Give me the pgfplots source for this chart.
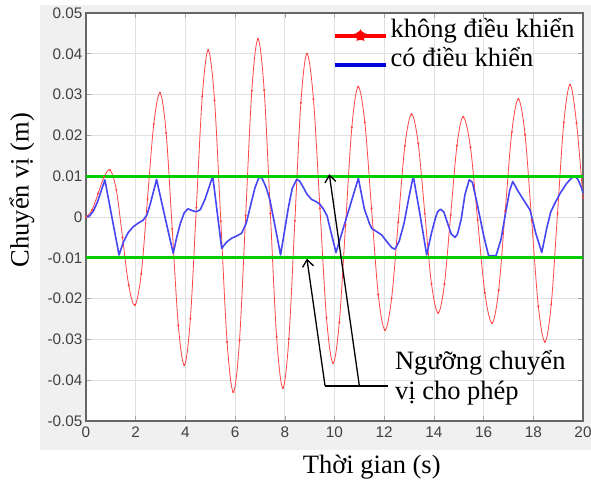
\documentclass[border=0pt]{standalone}
\usepackage{pgfplots}
\pgfplotsset{compat=1.18}
\usepackage{fontspec}
\setmainfont{Liberation Serif}
\newfontfamily\ticksans{Liberation Sans}
\usetikzlibrary{arrows.meta}

\definecolor{figgray}{HTML}{F0F0F0}
\definecolor{ticktext}{HTML}{404040}
\definecolor{uncred}{RGB}{255,70,70}
\definecolor{ctrlblue}{RGB}{70,70,245}
\definecolor{limgreen}{RGB}{0,205,0}

\pgfplotstableread{
t v
0 0
0.2425 0.00168
0.485 0.00575
0.7275 0.00982
0.97 0.0115
1.22 0.00665
1.47 -0.00505
1.72 -0.01675
1.97 -0.0216
2.2225 -0.01398
2.475 0.0044
2.7275 0.02278
2.98 0.0304
3.225 0.02063
3.47 -0.00295
3.715 -0.02653
3.96 -0.0363
4.2 -0.02499
4.44 0.0023
4.68 0.02959
4.92 0.0409
5.1725 0.02862
5.425 -0.001
5.6775 -0.03062
5.93 -0.0429
6.1775 -0.03023
6.425 0.00035
6.6725 0.03093
6.92 0.0436
7.17 0.03107
7.42 0.00085
7.67 -0.02937
7.92 -0.0419
8.1625 -0.0299
8.405 -0.00095
8.6475 0.028
8.89 0.0400
9.1525 0.0289
9.415 0.0021
9.6775 -0.0247
9.94 -0.0358
10.1925 -0.02588
10.445 -0.00195
10.6975 0.02198
10.95 0.0319
11.22 0.02317
11.49 0.0021
11.76 -0.01897
12.03 -0.0277
12.2975 -0.01995
12.565 -0.00125
12.8325 0.01745
13.1 0.0252
13.3675 0.01807
13.635 0.00085
13.9025 -0.01637
14.17 -0.0235
14.4225 -0.01647
14.675 0.0005
14.9275 0.01747
15.18 0.0245
15.47 0.0171
15.76 -0.00075
16.05 -0.0186
16.34 -0.026
16.605 -0.01796
16.87 0.00145
17.135 0.02086
17.4 0.0289
17.6675 0.02018
17.935 -0.00085
18.2025 -0.02188
18.47 -0.0306
18.7225 -0.02137
18.975 0.0009
19.2275 0.02317
19.48 0.0324
19.74 0.023
20 0.0047
}\uncontrolled

\pgfplotstableread{
t v
0 0
0.15 0.0003
0.3 0.0015
0.45 0.0035
0.6 0.0062
0.76 0.0091
1.05 -0.0003
1.33 -0.0093
1.5 -0.0062
1.7 -0.0038
1.9 -0.0024
2.1 -0.0015
2.3 -0.0008
2.45 0.0005
2.6 0.0035
2.84 0.0092
3.17 0.0002
3.51 -0.0089
3.65 -0.005
3.8 -0.0015
3.95 0.001
4.1 0.002
4.3 0.0015
4.45 0.0013
4.6 0.0018
4.8 0.0045
5.1 0.0100
5.46 -0.0077
5.65 -0.0062
5.86 -0.0052
6.05 -0.0047
6.26 -0.004
6.45 -0.0015
6.65 0.0035
6.8 0.0072
6.98 0.0100
7.1 0.0093
7.25 0.0072
7.4 0.0042
7.6 -0.002
7.83 -0.0093
8.0 -0.003
8.15 0.0025
8.3 0.007
8.48 0.0092
8.6 0.0088
8.75 0.0072
8.9 0.0055
9.08 0.0043
9.25 0.0038
9.4 0.0032
9.55 0.002
9.7 0.0003
9.85 -0.0035
10.06 -0.0087
10.96 0.0095
11.2 0.002
11.4 -0.0015
11.5 -0.0028
11.7 -0.0036
11.9 -0.0044
12.1 -0.006
12.3 -0.0075
12.43 -0.0079
12.6 -0.006
12.8 -0.0015
13.0 0.005
13.17 0.0100
13.45 0.0003
13.71 -0.0093
13.9 -0.004
14.05 -0.0005
14.15 0.0013
14.27 0.0019
14.4 0.0012
14.55 -0.0015
14.7 -0.0042
14.85 -0.005
14.95 -0.0042
15.1 -0.0005
15.25 0.0055
15.42 0.0091
15.55 0.0085
15.75 0.003
16.0 -0.0045
16.2 -0.0095
16.5 -0.0095
16.7 -0.0055
16.9 0.0015
17.05 0.0065
17.17 0.0087
17.4 0.0062
17.65 0.0038
17.87 0.0017
18.1 -0.004
18.34 -0.0087
18.55 -0.0025
18.7 0.0012
18.87 0.0034
19.1 0.006
19.35 0.0083
19.55 0.0096
19.68 0.0099
19.8 0.0092
19.95 0.007
20.0 0.0058
}\controlled

\begin{document}
\begin{tikzpicture}
\useasboundingbox (0,0) rectangle (591pt,486pt);
% figure background
\fill[figgray] (40pt,36pt) rectangle (591pt,481pt);
\begin{axis}[
  at={(86pt,65pt)}, anchor=south west,
  scale only axis, width=497pt, height=408pt,
  xmin=0, xmax=20, ymin=-0.05, ymax=0.05,
  axis background/.style={fill=white},
  xtick={0,2,...,20},
  ytick={-0.05,-0.04,-0.03,-0.02,-0.01,0,0.01,0.02,0.03,0.04,0.05},
  yticklabels={-0.05,-0.04,-0.03,-0.02,-0.01,0,0.01,0.02,0.03,0.04,0.05},
  scaled y ticks=false,
  /pgf/number format/assume math mode=true,
  tick label style={font=\ticksans\fontsize{15.3}{18}\selectfont, color=ticktext},
  xticklabel style={yshift=-2pt},
  tick align=inside, major tick length=5pt,
  tick style={color=gray!70, line width=0.6pt},
  axis line style={draw=black!60, line width=1.2pt},
  grid=major, grid style={color=black!12, line width=0.8pt},
  xlabel={Thời gian (s)},
  ylabel={Chuyển vị (m)},
  label style={font=\fontsize{26.5}{30}\selectfont},
  xlabel style={at={(axis description cs:0.575,-0.1127)}, anchor=center},
  ylabel style={at={(axis description cs:-0.1288,0.566)}, anchor=center},
  legend style={at={(axis description cs:0.497,0.99)}, anchor=north west,
    draw=none, fill=none, font=\fontsize{26.5}{29}\selectfont,
    row sep=0pt, inner xsep=0pt, inner ysep=0pt,
    nodes={inner xsep=3pt, inner ysep=0pt, text height=20pt, text depth=9pt}},
  legend cell align=left,
]
\addplot[uncred, line width=0.8pt, smooth, tension=0.55,
  mark=*, mark size=0.6pt, mark options={fill=red!80!black, draw=none},
  legend image code/.code={
    \draw[red, line width=3.5pt] (0pt,-4pt) -- (51pt,-4pt);
    \fill[red] (25.5pt,-4pt) +(90:5pt) -- +(162:5pt) -- +(234:5pt) -- +(306:5pt) -- +(18:5pt) -- cycle;
    \fill[red] (25.5pt,-4pt) +(90:5.5pt) -- +(234:5.5pt) -- +(18:5.5pt) -- +(162:5.5pt) -- +(306:5.5pt) -- cycle;
  }] table[x=t, y=v] {\uncontrolled};
\addlegendentry{không điều khiển}
\addplot[ctrlblue, line width=1.6pt, line join=round,
  legend image code/.code={
    \draw[blue!90!black, line width=3.5pt] (0pt,-4pt) -- (51pt,-4pt);
  }] table[x=t, y=v] {\controlled};
\addlegendentry{có điều khiển}
\addplot[limgreen, line width=2.8pt, forget plot] coordinates {(0,0.01) (20,0.01)};
\addplot[limgreen, line width=2.8pt, forget plot] coordinates {(0,-0.01) (20,-0.01)};
% pointer lines to the two limits
\draw[black, line width=1.3pt] (axis cs:9.62,-0.0414) -- (axis cs:12.15,-0.0414);
\draw[black, line width=1.3pt, -{Straight Barb[length=7pt,width=11pt,line width=1.3pt]}]
  (axis cs:9.62,-0.0414) -- (axis cs:8.89,-0.0102);
\draw[black, line width=1.3pt, -{Straight Barb[length=7pt,width=11pt,line width=1.3pt]}]
  (axis cs:11.0,-0.0414) -- (axis cs:9.79,0.0105);
\node[anchor=base west, font=\fontsize{26.5}{30}\selectfont, inner sep=0pt]
  at (axis cs:12.43,-0.0375) {Ngưỡng chuyển};
\node[anchor=base west, font=\fontsize{26.5}{30}\selectfont, inner sep=0pt]
  at (axis cs:12.43,-0.0447) {vị cho phép};
\end{axis}
\end{tikzpicture}
\end{document}
